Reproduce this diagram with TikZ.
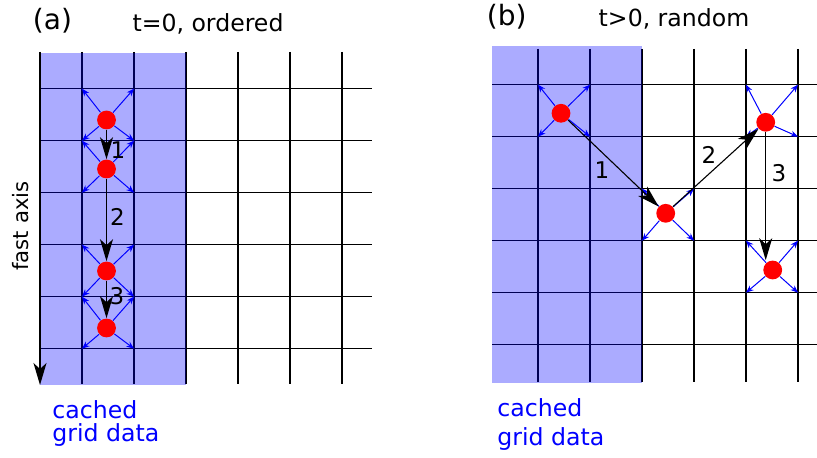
\documentclass[tikz,border=0pt]{standalone}
\usepackage{fontspec}
\setmainfont{DejaVu Sans}
\usepackage{tikz}
\usepackage{xcolor}
\usetikzlibrary{arrows.meta}
\definecolor{CacheBlue}{HTML}{0000FF}
\definecolor{DotRed}{HTML}{FF0000}
\tikzset{
    % grid and cache
    gridline/.style={
        line width=0.65pt,
        black
    },
    cache fill/.style={
        fill=CacheBlue,
        fill opacity=0.33,
        draw=none
    },
    % particles and their neighbour links
    particle/.style={
        circle,
        fill=DotRed,
        draw=none,
        minimum size=9.4pt,
        inner sep=0pt
    },
    spoke/.style={
        -{Stealth[length=3.8pt,width=3pt]},
        line width=0.5pt,
        CacheBlue
    },
    hop/.style={
        -{Stealth[length=11pt,width=6.5pt,inset=3pt]},
        line width=0.55pt,
        black
    },
    % texts
    hop label/.style={
        font=\fontsize{11.5}{13}\selectfont,
        inner sep=0pt
    },
    panel label/.style={
        font=\fontsize{14}{16}\selectfont,
        inner sep=0pt
    },
    title label/.style={
        font=\fontsize{11.8}{14}\selectfont,
        inner sep=0pt
    },
    cache label/.style={
        text=CacheBlue,
        align=left,
        inner sep=0pt,
        anchor=north west
    }
}
% arrows from a particle to the four corners of its cell
\newcommand{\cellspokes}[3]{%
    \foreach \dx/\dy [count=\cn] in {0/0,52/0,0/52,52/52}{
        \coordinate (#1-\cn) at (#2+\dx,#3+\dy);
        \draw[spoke] (#1) -- (#1-\cn);
    }%
}

\begin{document}
\begin{tikzpicture}[x=0.5pt, y=-0.5pt]
    \useasboundingbox (0,0) rectangle (817,458);

    % Panel (a) grid
    \foreach \k in {0,...,5}{
        \draw[gridline] (82+52*\k,52) -- (82+52*\k,384);
        \draw[gridline] (40,88.7+52*\k) -- (372,88.7+52*\k);
    }
    \fill[cache fill] (40,53) rectangle (186,385);

    % fast axis
    \coordinate (axtop) at (40,52);
    \coordinate (axend) at (40,385);
    \draw[hop, line width=0.65pt] (axtop) -- (axend);
    \node[rotate=90, font=\fontsize{10.6}{12}\selectfont, inner sep=0pt] (fastaxis) at (21,226) {fast axis};

    % Panel (b) grid
    \foreach \k in {0,...,5}{
        \draw[gridline] (538+52*\k,49) -- (538+52*\k,382);
        \draw[gridline] (492,84.7+52*\k) -- (817,84.7+52*\k);
    }
    \fill[cache fill] (492,46) rectangle (642,383);

    % Particles, ordered
    \node[particle] (o1) at (106.5,120) {};
    \node[particle] (o2) at (106.5,169) {};
    \node[particle] (o3) at (106.5,271) {};
    \node[particle] (o4) at (106.5,328) {};

    % Particles, random
    \node[particle] (r1) at (561,113.3) {};
    \node[particle] (r2) at (665.7,213.3) {};
    \node[particle] (r3) at (765.7,122.3) {};
    \node[particle] (r4) at (772.7,270) {};

    % Neighbour links
    \cellspokes{o1}{82}{88.7}
    \cellspokes{o2}{82}{140.7}
    \cellspokes{o3}{82}{244.7}
    \cellspokes{o4}{82}{296.7}
    \cellspokes{r1}{538}{84.7}
    \cellspokes{r2}{642}{188.7}
    \cellspokes{r3}{746}{84.7}
    \cellspokes{r4}{746}{240.7}

    % Hops
    \draw[hop] (o1) -- (o2);
    \draw[hop] (o2) -- (o3);
    \draw[hop] (o3) -- (o4);
    \draw[hop] (r1) -- (r2);
    \draw[hop] (r2) -- (r3);
    \draw[hop] (r3) -- (r3 |- r4.north);

    \node[hop label] (ho1) at (118,150) {1};
    \node[hop label] (ho2) at (117.5,217) {2};
    \node[hop label] (ho3) at (117,296) {3};
    \node[hop label] (hr1) at (602,170) {1};
    \node[hop label] (hr2) at (709,155) {2};
    \node[hop label] (hr3) at (779,173) {3};

    % Titles
    \node[panel label] (pa) at (52.5,20.5) {(a)};
    \node[title label] (ta) at (208,24) {t=0, ordered};
    \node[panel label] (pb) at (506.7,17) {(b)};
    \node[title label] (tb) at (674,19) {t>0, random};

    % Cache captions
    \node[cache label, font=\fontsize{11.8}{11.8}\selectfont] (ca) at (52,400) {cached\\grid data};
    \node[cache label, font=\fontsize{11.8}{14.5}\selectfont] (cb) at (497,398) {cached\\grid data};
\end{tikzpicture}
\end{document}
